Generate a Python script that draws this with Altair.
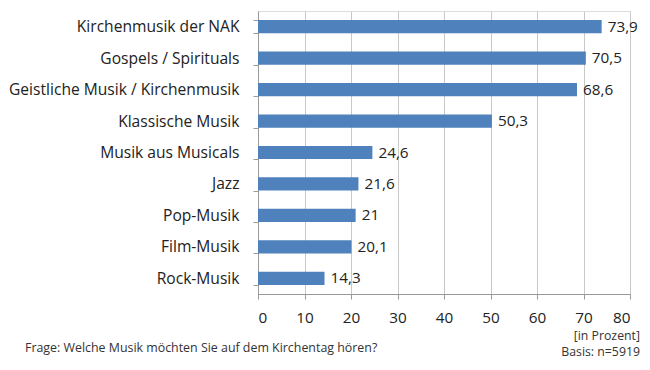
import altair as alt
import pandas as pd

categories = ["Kirchenmusik der NAK", "Gospels / Spirituals", "Geistliche Musik / Kirchenmusik",
              "Klassische Musik", "Musik aus Musicals", "Jazz", "Pop-Musik", "Film-Musik", "Rock-Musik"]
values = [73.9, 70.5, 68.6, 50.3, 24.6, 21.6, 21, 20.1, 14.3]
x_ticks = [0, 10, 20, 30, 40, 50, 60, 70, 80]

df = pd.DataFrame({"cat": categories, "value": values})

FONT = "Open Sans"
W, H = 372, 283

base = alt.Chart(df).transform_calculate(
    lbl="replace(toString(datum.value), '.', ',')"
)

y_enc = alt.Y("cat:N", sort=categories, title=None,
              scale=alt.Scale(paddingInner=0.58, paddingOuter=0.29),
              axis=alt.Axis(tickBand="extent", labelFontSize=15.6, labelFont=FONT,
                            labelColor="#222", domainColor="#999", tickColor="#999",
                            tickSize=5, labelPadding=14, minExtent=250, maxExtent=250,
                            labelLimit=300))

bars = base.mark_bar(color="#4F81BD").encode(
    x=alt.X("value:Q", title=None,
            scale=alt.Scale(domain=[0, 80], nice=False),
            axis=alt.Axis(values=x_ticks, labelFontSize=15.3, labelFont=FONT,
                          labelColor="#222", domainColor="#999", tickColor="#999",
                          tickSize=5, labelPadding=11, grid=True, gridColor="#c8c8c8")),
    y=y_enc,
)

labels = base.mark_text(align="left", baseline="middle", dx=6, fontSize=15.3,
                        font=FONT, color="#222").encode(
    x="value:Q", y=alt.Y("cat:N", sort=categories), text="lbl:N")

notes = pd.DataFrame({
    "t": ["Frage: Welche Musik möchten Sie auf dem Kirchentag hören?", "[in Prozent]", "Basis: n=5919"],
    "px": [-233, 382, 382],
    "py": [337, 325, 341],
})
note_left = alt.Chart(notes.iloc[[0]]).mark_text(align="left", baseline="middle", fontSize=12.4,
                                                  font=FONT, color="#333").encode(
    x=alt.X("px:Q", scale=None), y=alt.Y("py:Q", scale=None), text="t:N")
note_right = alt.Chart(notes.iloc[[1, 2]]).mark_text(align="right", baseline="middle", fontSize=12.3,
                                                      font=FONT, color="#333").encode(
    x=alt.X("px:Q", scale=None), y=alt.Y("py:Q", scale=None), text="t:N")

chart = alt.layer(bars, labels, note_left, note_right).properties(
    width=W, height=H,
    padding={"left": 0, "top": -4, "right": 2, "bottom": 0},
).configure_view(stroke=None).configure(background="white")

chart.save("out.html", embed_options={"renderer": "svg", "actions": False})
